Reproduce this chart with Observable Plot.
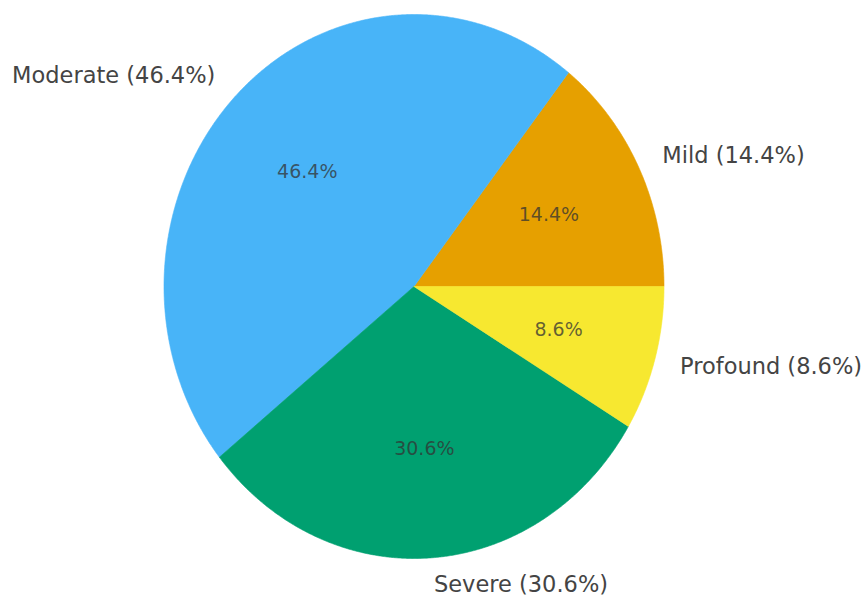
<!DOCTYPE html>
<html>
<head>
<meta charset="utf-8">
<script src="https://cdn.jsdelivr.net/npm/d3@7"></script>
<script src="https://cdn.jsdelivr.net/npm/@observablehq/plot@0.6"></script>
<style>
  html, body { margin: 0; padding: 0; background: #fff; }
  #chart svg { display: block; }
</style>
</head>
<body>
<div id="chart"></div>
<script>
const categories = ["Mild", "Moderate", "Severe", "Profound"];
const values = [14.4, 46.4, 30.6, 8.6];
const colors = ["#E6A000", "#48B4F8", "#00A070", "#F7E830"];

const total = d3.sum(values);
let acc = 0;
const slices = categories.map((c, i) => {
  const a0 = acc / total * 2 * Math.PI;
  acc += values[i];
  const a1 = acc / total * 2 * Math.PI;
  return {category: c, value: values[i], a0, a1, mid: (a0 + a1) / 2, pct: (values[i] / total * 100).toFixed(1) + "%"};
});

const arcPts = [];
for (const s of slices) {
  arcPts.push({category: s.category, x: 0, y: 0});
  const n = Math.max(2, Math.ceil((s.a1 - s.a0) / 0.005));
  for (let k = 0; k <= n; k++) {
    const a = s.a0 + (s.a1 - s.a0) * k / n;
    arcPts.push({category: s.category, x: Math.cos(a), y: Math.sin(a)});
  }
  arcPts.push({category: s.category, x: 0, y: 0});
}

const outer = slices.map(s => ({
  label: `${s.category} (${s.pct})`,
  x: 1.1 * Math.cos(s.mid), y: 1.1 * Math.sin(s.mid)
}));
const inner = slices.map(s => ({
  label: s.pct, x: 0.6 * Math.cos(s.mid), y: 0.6 * Math.sin(s.mid)
}));

const W = 863, H = 596, cx = 413.5, cy = 286, rx = 250, ry = 272;

const plot = Plot.plot({
  width: W, height: H,
  margin: 0,
  style: {fontFamily: "DejaVu Sans", background: "white"},
  x: {domain: [-cx / rx, (W - cx) / rx], range: [0, W], axis: null},
  y: {domain: [-(H - cy) / ry, cy / ry], range: [H, 0], axis: null},
  color: {domain: categories, range: colors},
  marks: [
    Plot.line(arcPts, {x: "x", y: "y", z: "category", fill: "category", stroke: "category", strokeWidth: 0.6, curve: "linear"}),
    Plot.text(inner, {x: "x", y: "y", text: "label", fontSize: 19, fill: "#333", fillOpacity: 0.75}),
    Plot.text(outer.filter(d => d.x >= 0), {x: "x", y: "y", text: "label", fontSize: 22.5, fill: "#444", textAnchor: "start", dx: 1}),
    Plot.text(outer.filter(d => d.x < 0), {x: "x", y: "y", text: "label", fontSize: 22.5, fill: "#444", textAnchor: "end", dx: -3})
  ]
});
document.getElementById("chart").appendChild(plot);
</script>
</body>
</html>
